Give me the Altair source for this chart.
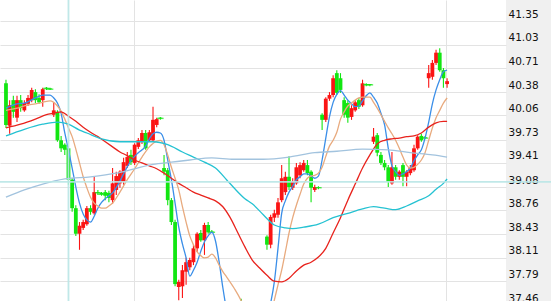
import altair as alt
import pandas as pd

# ---------------- candle data (price values) ----------------
opens = [40.50, 39.92, 40.27, 40.03, 40.27, 40.13, 40.22, 40.27, 40.38, 40.30,
         40.27, 40.44, 40.43, 40.07, 40.11, 39.72, 39.66, 39.61, 39.18, 38.79,
         38.44, 38.52, 38.57, 38.79, 38.72, 39.01, 39.00, 39.01, 39.00, 38.90,
         39.04, 39.13, 39.15, 39.37, 39.52, 39.41, 39.63, 39.70, 39.82, 39.72,
         39.72, 39.93, 40.03, 39.34, 39.31, 38.90, 38.60, 37.71, 37.72, 37.92,
         37.98, 38.05, 38.24, 38.45, 38.35, 38.56, 38.47, 37.30, 36.98, 36.78,
         36.88, 36.62, 36.70, 36.92, 37.25, 36.95, 36.78, 36.85, 36.72, 36.80,
         36.58, 38.40, 38.29, 38.66, 38.70, 38.90, 39.01, 39.22, 39.07, 39.13,
         39.24, 39.31, 39.38, 39.29, 39.04, 39.08, 40.07, 40.00, 40.29, 40.34,
         40.64, 40.57, 40.27, 40.23, 40.04, 40.13, 40.27, 40.20, 40.49, 40.49,
         39.70, 39.79, 39.52, 39.41, 39.35, 39.13, 39.35, 39.22, 39.38, 39.22,
         39.27, 39.31, 39.61, 39.78, 39.76, 40.57, 40.59, 40.78, 40.92, 40.68,
         40.49]
highs = [40.55, 40.27, 40.33, 40.33, 40.34, 40.27, 40.34, 40.44, 40.42, 40.35,
         40.44, 40.45, 40.44, 40.24, 40.13, 39.78, 39.68, 39.64, 39.20, 38.83,
         38.60, 38.63, 38.82, 38.83, 39.22, 39.04, 39.01, 39.04, 39.03, 39.34,
         39.29, 39.31, 39.48, 39.56, 39.59, 39.68, 39.75, 39.86, 39.86, 39.86,
         40.18, 40.03, 40.04, 39.52, 39.34, 38.93, 38.63, 37.81, 38.01, 38.11,
         38.11, 38.29, 38.46, 38.49, 38.59, 38.60, 38.49, 37.35, 37.10, 36.95,
         36.92, 36.75, 36.98, 37.25, 37.55, 37.05, 36.90, 37.00, 36.85, 36.90,
         36.75, 38.42, 38.70, 38.77, 38.93, 39.38, 39.29, 39.50, 39.20, 39.41,
         39.42, 39.45, 39.45, 39.31, 39.11, 39.09, 40.09, 40.31, 40.38, 40.61,
         40.68, 40.64, 40.31, 40.27, 40.20, 40.27, 40.30, 40.55, 40.50, 40.49,
         39.89, 39.82, 39.56, 39.45, 39.38, 39.56, 39.38, 39.31, 39.41, 39.31,
         39.38, 39.66, 39.79, 39.81, 39.78, 40.75, 40.82, 40.96, 40.98, 40.71,
         40.57]
lows = [39.89, 39.81, 40.03, 39.97, 40.11, 40.11, 40.19, 40.24, 40.23, 40.22,
        40.18, 40.41, 40.41, 40.04, 39.70, 39.56, 39.52, 39.11, 38.74, 38.41,
        38.22, 38.49, 38.55, 38.70, 38.70, 38.97, 38.96, 38.90, 38.87, 38.85,
        38.97, 39.07, 39.11, 39.34, 39.38, 39.38, 39.60, 39.67, 39.59, 39.70,
        39.70, 39.90, 40.00, 39.24, 38.83, 38.56, 37.72, 37.53, 37.56, 37.74,
        37.94, 38.01, 38.19, 38.33, 38.15, 38.44, 38.45, 36.90, 36.70, 36.60,
        36.55, 36.45, 36.60, 36.85, 36.90, 36.70, 36.60, 36.65, 36.55, 36.50,
        36.45, 38.22, 38.24, 38.60, 38.66, 38.87, 38.97, 39.04, 39.04, 39.11,
        39.20, 39.29, 39.24, 38.87, 39.01, 39.05, 39.86, 39.97, 40.26, 40.31,
        40.34, 40.37, 40.03, 39.96, 40.00, 40.11, 40.15, 40.18, 40.46, 40.46,
        39.67, 39.50, 39.38, 39.31, 39.08, 39.11, 39.18, 39.18, 39.09, 39.09,
        39.24, 39.29, 39.59, 39.70, 39.74, 40.44, 40.55, 40.75, 40.66, 40.44,
        40.44]
closes = [39.93, 40.20, 40.11, 40.27, 40.16, 40.23, 40.30, 40.41, 40.27, 40.24,
          40.42, 40.43, 40.42, 40.13, 39.72, 39.61, 39.59, 39.18, 38.79, 38.44,
          38.55, 38.60, 38.79, 38.74, 39.01, 39.00, 38.98, 38.96, 38.93, 39.13,
          39.23, 39.29, 39.42, 39.49, 39.42, 39.66, 39.72, 39.82, 39.61, 39.83,
          40.00, 40.01, 40.02, 39.29, 38.90, 38.60, 37.75, 37.78, 37.94, 38.05,
          38.08, 38.24, 38.44, 38.35, 38.56, 38.46, 38.46, 36.98, 36.78, 36.88,
          36.62, 36.70, 36.92, 37.10, 36.95, 36.78, 36.85, 36.72, 36.80, 36.58,
          36.65, 38.29, 38.67, 38.72, 38.87, 39.20, 39.22, 39.08, 39.15, 39.35,
          39.38, 39.41, 39.27, 39.07, 39.08, 39.07, 40.00, 40.29, 40.34, 40.57,
          40.37, 40.41, 40.07, 40.03, 40.16, 40.24, 40.18, 40.50, 40.48, 40.48,
          39.77, 39.55, 39.41, 39.35, 39.15, 39.35, 39.22, 39.29, 39.22, 39.29,
          39.35, 39.61, 39.77, 39.72, 39.75, 40.64, 40.78, 40.92, 40.68, 40.57,
          40.53]

# ---------------- moving averages ----------------
ma5_idx = [0, 3, 5, 8, 10, 12, 13, 14, 15, 16, 17, 18, 19, 20, 21, 22, 23, 24, 25, 26,
           27, 28, 29, 31, 32, 34, 36, 38, 39, 40, 41, 42, 43, 44, 45, 46, 47, 48, 49, 50,
           51, 52, 53, 54, 55, 56, 57, 58, 59, 60, 62, 64, 66, 68, 70, 72, 73, 74, 75, 76,
           77, 78, 79, 80, 81, 82, 83, 84, 85, 86, 87, 88, 89, 90, 91, 92, 93, 94, 95, 96,
           97, 98, 99, 100, 101, 102, 103, 104, 105, 106, 107, 108, 109, 110, 111, 112,
           113, 114, 115, 116, 117, 118, 119, 120]
ma5_val = [40.16, 40.22, 40.23, 40.30, 40.34, 40.34, 40.30, 40.23, 40.09, 39.82, 39.59,
           39.34, 39.08, 38.86, 38.71, 38.63, 38.60, 38.68, 38.79, 38.87, 38.92, 38.96,
           39.00, 39.16, 39.26, 39.44, 39.55, 39.64, 39.74, 39.81, 39.83, 39.82, 39.72,
           39.45, 39.18, 38.86, 38.53, 38.30, 38.11, 37.86, 37.94, 38.05, 38.20, 38.33,
           38.41, 38.46, 38.34, 38.05, 37.70, 37.40, 37.05, 36.88, 36.85, 36.92, 37.12,
           37.49, 37.78, 38.24, 38.72, 38.89, 39.01, 39.09, 39.18, 39.22, 39.26, 39.26,
           39.23, 39.20, 39.23, 39.45, 39.75, 40.04, 40.24, 40.35, 40.40, 40.34, 40.27,
           40.22, 40.18, 40.19, 40.26, 40.33, 40.37, 40.31, 40.23, 40.09, 39.93, 39.61,
           39.37, 39.29, 39.24, 39.26, 39.29, 39.34, 39.44, 39.52, 39.59, 39.75, 39.97,
           40.22, 40.41, 40.55, 40.66, 40.68]

ma10_idx = [0, 3, 5, 8, 10, 12, 14, 15, 16, 17, 18, 19, 20, 21, 22, 23, 24, 25, 26, 27,
            28, 29, 31, 33, 35, 37, 39, 41, 42, 43, 44, 45, 46, 47, 48, 49, 50, 51, 52, 53,
            54, 55, 56, 57, 58, 59, 60, 62, 64, 66, 68, 70, 72, 73, 74, 75, 76, 77, 78, 79,
            80, 81, 82, 83, 84, 85, 86, 87, 88, 89, 90, 91, 92, 93, 94, 95, 96, 97, 98, 99,
            100, 101, 102, 103, 104, 105, 106, 107, 108, 109, 110, 111, 112, 113, 114, 115,
            116, 117, 118, 119, 120]
ma10_val = [40.13, 40.16, 40.19, 40.22, 40.24, 40.26, 40.19, 40.12, 40.01, 39.89, 39.77,
            39.60, 39.41, 39.22, 39.07, 38.94, 38.86, 38.82, 38.79, 38.79, 38.82, 38.86,
            39.01, 39.18, 39.33, 39.49, 39.63, 39.71, 39.72, 39.66, 39.52, 39.35, 39.20,
            39.04, 38.81, 38.60, 38.41, 38.29, 38.19, 38.14, 38.11, 38.12, 38.16, 38.11,
            38.01, 37.92, 37.85, 37.70, 37.52, 37.26, 37.05, 37.09, 37.33, 37.53, 37.74,
            37.94, 38.19, 38.45, 38.66, 38.83, 38.98, 39.12, 39.20, 39.23, 39.24, 39.27,
            39.35, 39.50, 39.64, 39.72, 39.83, 40.01, 40.11, 40.19, 40.23, 40.27, 40.30,
            40.31, 40.31, 40.31, 40.24, 40.16, 40.07, 39.98, 39.89, 39.81, 39.72, 39.61,
            39.49, 39.38, 39.34, 39.35, 39.39, 39.45, 39.55, 39.72, 39.89, 40.03, 40.13,
            40.23, 40.30]

ma20_idx = [0, 4, 8, 11, 13, 15, 17, 19, 21, 23, 25, 27, 29, 31, 33, 35, 37, 39, 41, 43,
            45, 47, 49, 51, 53, 55, 57, 59, 61, 63, 65, 67, 69, 71, 73, 75, 77, 79, 81, 83,
            85, 87, 89, 91, 93, 95, 97, 99, 101, 103, 105, 107, 109, 111, 113, 115, 117,
            119, 120]
ma20_val = [39.89, 39.94, 40.01, 40.07, 40.09, 40.11, 40.05, 39.98, 39.90, 39.83, 39.77,
            39.70, 39.63, 39.56, 39.51, 39.45, 39.41, 39.37, 39.33, 39.27, 39.20, 39.13,
            39.07, 39.01, 38.97, 38.93, 38.89, 38.81, 38.66, 38.46, 38.26, 38.08, 37.97,
            37.87, 37.79, 37.78, 37.83, 37.93, 38.01, 38.05, 38.12, 38.24, 38.45, 38.66,
            38.90, 39.12, 39.34, 39.52, 39.67, 39.72, 39.74, 39.75, 39.77, 39.78, 39.82,
            39.90, 39.96, 39.98, 39.98]

ma60_idx = [0, 5, 10, 14, 17, 20, 22, 26, 31, 35, 40, 44, 48, 51, 54, 57, 60, 62, 65, 67,
            70, 73, 76, 78, 81, 85, 89, 93, 97, 100, 103, 106, 109, 112, 115, 117, 119, 120]
ma60_val = [39.78, 39.87, 39.94, 39.97, 39.94, 39.86, 39.82, 39.74, 39.70, 39.70, 39.70,
            39.66, 39.56, 39.49, 39.42, 39.34, 39.18, 39.07, 38.92, 38.85, 38.70, 38.56,
            38.52, 38.51, 38.53, 38.57, 38.66, 38.72, 38.78, 38.81, 38.79, 38.77, 38.82,
            38.89, 38.96, 39.05, 39.13, 39.19]

ma120_idx = [0, 5, 10, 16, 23, 30, 35, 40, 45, 50, 56, 62, 70, 77, 84, 90, 97, 104, 110,
             116, 120]
ma120_val = [38.94, 39.04, 39.12, 39.19, 39.22, 39.27, 39.33, 39.39, 39.42, 39.45, 39.48,
             39.46, 39.46, 39.49, 39.55, 39.57, 39.60, 39.59, 39.55, 39.52, 39.49]

ma_names = ["MA5", "MA10", "MA20", "MA60", "MA120"]
ma_colors = ["#3a8ee8", "#e8aa7e", "#e8231d", "#25c2d2", "#a2c3de"]

# ---------------- axis values / markers ----------------
y_ticks = [41.35, 41.03, 40.71, 40.38, 40.06, 39.73, 39.41, 39.08,
           38.76, 38.43, 38.11, 37.79, 37.46]
period_marks = [34.7, 119.75]
cross_x = [17]
cross_y = [39.15]

# ---------------- tables ----------------
candles = pd.DataFrame({
    "idx": list(range(len(opens))),
    "open": opens, "high": highs, "low": lows, "close": closes,
})
candles["dir"] = ["up" if c >= o else "down" for o, c in zip(opens, closes)]

rows = []
for name, ix, vals in zip(ma_names,
                          [ma5_idx, ma10_idx, ma20_idx, ma60_idx, ma120_idx],
                          [ma5_val, ma10_val, ma20_val, ma60_val, ma120_val]):
    for i, v in zip(ix, vals):
        rows.append({"idx": i, "value": v, "series": name})
ma_df = pd.DataFrame(rows)

# ---------------- scales / axes ----------------
xs = alt.Scale(domain=[-0.2667, 134.6667], nice=False, zero=False)
ys = alt.Scale(domain=[37.3952, 41.6418], nice=False, zero=False)

x_axis = alt.Axis(values=period_marks, grid=True, gridColor="#e3e3e3", gridWidth=1,
                  labels=False, ticks=False, domain=False, title=None)
y_axis = alt.Axis(orient="right", values=y_ticks, format=".2f", grid=True,
                  gridColor="#e3e3e3", gridWidth=1, domain=False, ticks=False,
                  labelFont="DejaVu Sans", labelFontSize=10.5, labelColor="#111111",
                  labelAlign="left", labelBaseline="alphabetic", labelOffset=-4,
                  labelPadding=2, labelOverlap=False, labelFlush=False, title=None)

dir_color = alt.Color("dir:N", scale=alt.Scale(domain=["up", "down"],
                                                range=["#fb1414", "#12e612"]), legend=None)

X = alt.X("idx:Q", scale=xs, axis=x_axis)

wicks = alt.Chart(candles).mark_rule(strokeWidth=1.1).encode(
    x=X,
    y=alt.Y("low:Q", scale=ys, axis=y_axis),
    y2="high:Q",
    color=dir_color,
)

bodies = alt.Chart(candles).mark_bar(size=3.8).encode(
    x=X,
    y=alt.Y("open:Q", scale=ys, axis=y_axis),
    y2="close:Q",
    color=dir_color,
)

doji = alt.Chart(candles).transform_filter(
    "abs(datum.open - datum.close) < 0.025"
).mark_tick(orient="horizontal", size=6.5, thickness=1.4).encode(
    x=X,
    y=alt.Y("close:Q", scale=ys, axis=y_axis),
    color=dir_color,
)

lines = alt.Chart(ma_df).mark_line(strokeWidth=1.3, interpolate="monotone").encode(
    x=X,
    y=alt.Y("value:Q", scale=ys, axis=y_axis),
    color=alt.Color("series:N", scale=alt.Scale(domain=ma_names, range=ma_colors),
                    legend=None),
    detail="series:N",
)

vcross = alt.Chart(pd.DataFrame({"idx": cross_x})).mark_rule(
    color="#b9e6e6", strokeWidth=1.8, opacity=0.9
).encode(x=X)

hcross = alt.Chart(pd.DataFrame({"price": cross_y})).mark_rule(
    color="#b9e6e6", strokeWidth=1.8, opacity=0.9
).encode(
    y=alt.Y("price:Q", scale=ys, axis=y_axis),
    x=alt.value(0),
    x2=alt.value(551),
)

chart = alt.layer(wicks, bodies, doji, lines, vcross, hcross).resolve_scale(
    color="independent"
).properties(
    width=506,
    height=310,
    background="#f0f0f0",
    padding={"left": 0, "top": 0, "right": 45, "bottom": -9},
    autosize=alt.AutoSizeParams(type="none"),
).configure_view(stroke=None, fill="white")

chart.save("out.html", embed_options={"renderer": "svg", "actions": False})
